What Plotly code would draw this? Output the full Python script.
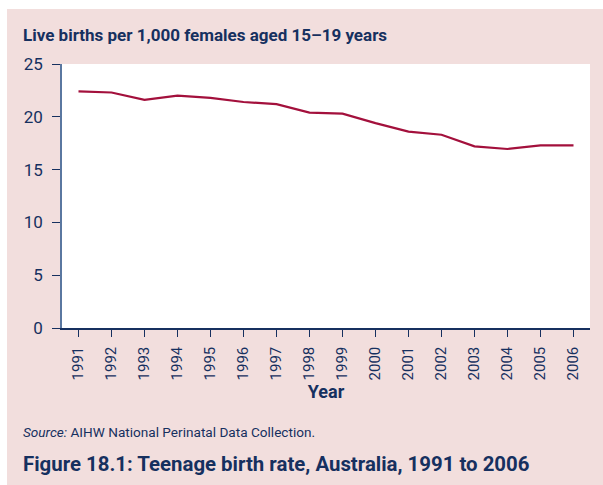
import plotly.graph_objects as go

years = [str(y) for y in range(1991, 2007)]
rates = [22.4, 22.3, 21.6, 22.0, 21.8, 21.4, 21.2, 20.4, 20.3, 19.4, 18.6, 18.3, 17.2, 16.95, 17.3, 17.3]
y_ticks = [0, 5, 10, 15, 20, 25]

title_text = "Live births per 1,000 females aged 15–19 years"
x_title = "Year"
source_text = "<i>Source:</i> AIHW National Perinatal Data Collection."
caption_text = "Figure 18.1: Teenage birth rate, Australia, 1991 to 2006"

W, H = 603, 485
L, R, T, B = 62, 590, 64, 328
PW, PH = R - L, B - T

def px(x):
    return (x - L) / PW

def py(y):
    return (B - y) / PH

NAVY = "#16305f"
PINK = "#f2dedd"
LINE = "#a3103c"
FONT = "Roboto, sans-serif"

fig = go.Figure()
fig.add_trace(go.Scatter(x=years, y=rates, mode="lines",
                         line=dict(color=LINE, width=2.2), hoverinfo="skip"))

fig.update_layout(
    width=W, height=H,
    margin=dict(l=L, r=W - R, t=T, b=H - B, pad=0),
    paper_bgcolor=PINK, plot_bgcolor="white",
    showlegend=False,
    font=dict(family=FONT, color=NAVY),
    xaxis=dict(type="category", range=[-0.5, 15.5], showgrid=False, zeroline=False,
               showline=True, linecolor=NAVY, linewidth=1.5,
               ticks="outside", ticklen=7, tickwidth=1.2, tickcolor=NAVY,
               tickangle=-90, tickfont=dict(size=15, color=NAVY), ticklabelstandoff=4,
               title=dict(text="<b>" + x_title + "</b>", font=dict(size=18, color=NAVY), standoff=6)),
    yaxis=dict(range=[0, 25], tickvals=y_ticks, showgrid=False, zeroline=False,
               showline=True, linecolor="#5a77a0", linewidth=1.5,
               ticks="outside", ticklen=8, tickwidth=1.2, tickcolor=NAVY,
               tickfont=dict(size=17, color=NAVY), ticklabelstandoff=6),
)

# white margins around the pink panel
fig.add_shape(type="rect", xref="paper", yref="paper",
              x0=px(0), x1=px(W), y0=py(9), y1=py(0), fillcolor="white", line_width=0, layer="above")
fig.add_shape(type="rect", xref="paper", yref="paper",
              x0=px(0), x1=px(7), y0=py(H), y1=py(0), fillcolor="white", line_width=0, layer="above")

fig.add_annotation(text="<b>" + title_text + "</b>", xref="paper", yref="paper",
                   x=px(21), y=py(35), xanchor="left", yanchor="middle", showarrow=False,
                   font=dict(size=17, color=NAVY))
fig.add_annotation(text=source_text, xref="paper", yref="paper",
                   x=px(21), y=py(432), xanchor="left", yanchor="middle", showarrow=False,
                   font=dict(size=13.6, color=NAVY))
fig.add_annotation(text="<b>" + caption_text + "</b>", xref="paper", yref="paper",
                   x=px(21), y=py(464), xanchor="left", yanchor="middle", showarrow=False,
                   font=dict(size=20.4, color=NAVY))

fig.write_html("out.html", config={"displayModeBar": False},
               post_script="document.body.style.margin='0';")
